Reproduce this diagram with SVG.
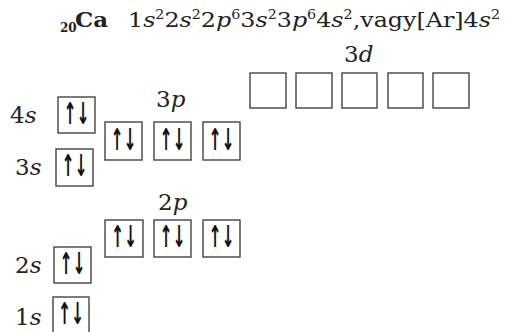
<svg xmlns="http://www.w3.org/2000/svg" width="505" height="332" viewBox="0 0 505 332">
<style>
text{font-family:"DejaVu Serif","Liberation Serif",serif;fill:#222}
.lbl{font-size:23px}
.it{font-style:italic}
.sup{font-size:12px}
.box{fill:#fff;stroke:#444;stroke-width:1.4}
.arr{font-family:"DejaVu Sans",sans-serif;font-size:30px;font-weight:bold;text-anchor:middle;fill:#111}
</style>
<rect width="505" height="332" fill="#fff"/>
<g id="title">
<text x="60" y="32" font-size="12" font-weight="bold">20</text>
<text x="75" y="27" font-size="20" font-weight="bold" textLength="33" lengthAdjust="spacingAndGlyphs">Ca</text>
<text x="128" y="27" font-size="20" textLength="372" lengthAdjust="spacingAndGlyphs">1<tspan class="it">s</tspan><tspan class="sup" dy="-8">2</tspan><tspan dy="8">2</tspan><tspan class="it">s</tspan><tspan class="sup" dy="-8">2</tspan><tspan dy="8">2</tspan><tspan class="it">p</tspan><tspan class="sup" dy="-8">6</tspan><tspan dy="8">3</tspan><tspan class="it">s</tspan><tspan class="sup" dy="-8">2</tspan><tspan dy="8">3</tspan><tspan class="it">p</tspan><tspan class="sup" dy="-8">6</tspan><tspan dy="8">4</tspan><tspan class="it">s</tspan><tspan class="sup" dy="-8">2</tspan><tspan dy="8">,vagy[Ar]4</tspan><tspan class="it">s</tspan><tspan class="sup" dy="-8">2</tspan></text>
</g>
<g id="orb-1s">
<text class="lbl" x="15" y="325">1<tspan class="it">s</tspan></text>
<rect class="box" x="53" y="297" width="36" height="36"/>
<text class="arr" x="71" y="324" textLength="26" lengthAdjust="spacingAndGlyphs">↑↓</text>
</g>
<g id="orb-2s">
<text class="lbl" x="15" y="273">2<tspan class="it">s</tspan></text>
<rect class="box" x="54" y="247" width="37" height="36"/>
<text class="arr" x="72.5" y="274" textLength="26" lengthAdjust="spacingAndGlyphs">↑↓</text>
</g>
<g id="orb-2p">
<text class="lbl" x="158" y="210">2<tspan class="it">p</tspan></text>
<rect class="box" x="105" y="220" width="38" height="37"/>
<rect class="box" x="154" y="220" width="37" height="37"/>
<rect class="box" x="203" y="220" width="37" height="37"/>
<text class="arr" x="124" y="247" textLength="26" lengthAdjust="spacingAndGlyphs">↑↓</text>
<text class="arr" x="172.5" y="247" textLength="26" lengthAdjust="spacingAndGlyphs">↑↓</text>
<text class="arr" x="221.5" y="247" textLength="26" lengthAdjust="spacingAndGlyphs">↑↓</text>
</g>
<g id="orb-3s">
<text class="lbl" x="15" y="175">3<tspan class="it">s</tspan></text>
<rect class="box" x="56" y="149" width="37" height="37"/>
<text class="arr" x="74.5" y="176" textLength="26" lengthAdjust="spacingAndGlyphs">↑↓</text>
</g>
<g id="orb-3p">
<text class="lbl" x="156" y="107">3<tspan class="it">p</tspan></text>
<rect class="box" x="105" y="122" width="37" height="38"/>
<rect class="box" x="154" y="122" width="37" height="38"/>
<rect class="box" x="203" y="122" width="37" height="38"/>
<text class="arr" x="123.5" y="150" textLength="26" lengthAdjust="spacingAndGlyphs">↑↓</text>
<text class="arr" x="172.5" y="150" textLength="26" lengthAdjust="spacingAndGlyphs">↑↓</text>
<text class="arr" x="221.5" y="150" textLength="26" lengthAdjust="spacingAndGlyphs">↑↓</text>
</g>
<g id="orb-4s">
<text class="lbl" x="10" y="123">4<tspan class="it">s</tspan></text>
<rect class="box" x="58" y="97" width="37" height="36"/>
<text class="arr" x="76.5" y="124" textLength="26" lengthAdjust="spacingAndGlyphs">↑↓</text>
</g>
<g id="orb-3d">
<text class="lbl" x="344" y="62">3<tspan class="it">d</tspan></text>
<rect class="box" x="250" y="73" width="36" height="35"/>
<rect class="box" x="296" y="73" width="36" height="35"/>
<rect class="box" x="342" y="73" width="35" height="35"/>
<rect class="box" x="388" y="73" width="35" height="35"/>
<rect class="box" x="433" y="73" width="36" height="35"/>
</g>
<g id="connectors"></g>
</svg>
